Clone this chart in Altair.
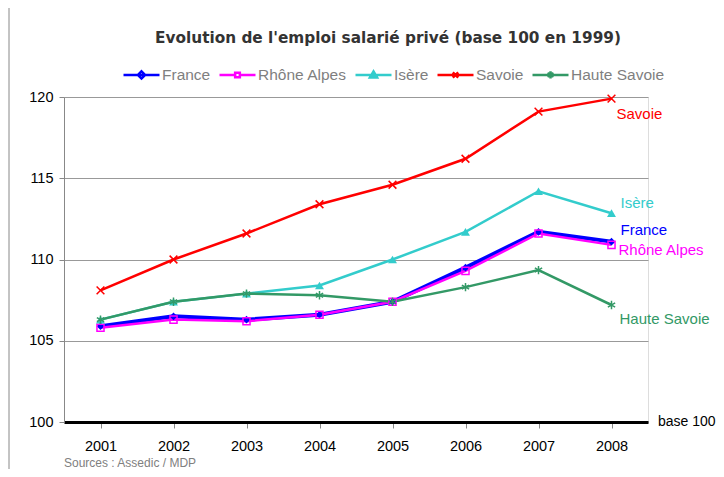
import altair as alt
import pandas as pd

years = ["2001", "2002", "2003", "2004", "2005", "2006", "2007", "2008"]
series_names = ["France", "Rhône Alpes", "Isère", "Savoie", "Haute Savoie"]
france = [105.9, 106.5, 106.3, 106.6, 107.4, 109.5, 111.7, 111.1]
rhone_alpes = [105.8, 106.3, 106.2, 106.6, 107.4, 109.3, 111.6, 110.9]
isere = [106.3, 107.4, 107.9, 108.4, 110.0, 111.7, 114.2, 112.85]
savoie = [108.1, 110.0, 111.6, 113.4, 114.6, 116.2, 119.1, 119.9]
haute_savoie = [106.3, 107.4, 107.9, 107.8, 107.4, 108.3, 109.35, 107.2]
colors = ["#0000ff", "#ff00ff", "#33cccc", "#ff0000", "#339966"]
title_text = "Evolution de l'emploi salarié privé (base 100 en 1999)"
source_text = "Sources : Assedic / MDP"
base_text = "base 100"
y_ticks = [100, 105, 110, 115, 120]

values = [france, rhone_alpes, isere, savoie, haute_savoie]
rows = []
for name, vals in zip(series_names, values):
    for yr, v in zip(years, vals):
        rows.append({"serie": name, "annee": yr, "valeur": v})
df = pd.DataFrame(rows)

W, H = 584, 325
FONT = "Liberation Sans"

xenc = alt.X("annee:O", sort=years,
             scale=alt.Scale(paddingInner=0, paddingOuter=0, align=0.5),
             axis=alt.Axis(title=None, labelAngle=0, labelFontSize=14.5, labelColor="black",
                           labelFont=FONT, domainColor="black", domainWidth=3,
                           ticks=True, tickColor="#888", tickSize=6, bandPosition=0,
                           labelPadding=11, grid=False))
yscale = alt.Scale(domain=[100, 120], nice=False, zero=False)
yaxis = alt.Axis(title=None, values=y_ticks, labelFontSize=14.5, labelColor="black",
                 labelFont=FONT, domainColor="#888", tickColor="#888", tickSize=5,
                 labelPadding=6, grid=True, gridColor="#999", gridWidth=1)
yenc = alt.Y("valeur:Q", scale=yscale, axis=yaxis)

legend_paths = [
    "M-1,0L1,0M0,-0.2L0.2,0L0,0.2L-0.2,0Z",
    "M-1,0L-0.13,0M0.13,0L1,0M-0.13,-0.13L0.13,-0.13L0.13,0.13L-0.13,0.13Z",
    "M-1,0L1,0M0,-0.2L0.2,0.14L-0.2,0.14Z",
    "M-1,0L1,0M-0.15,-0.15L0.15,0.15M-0.15,0.15L0.15,-0.15",
    "M-1,0L1,0M0,-0.2L0,0.2M-0.17,-0.1L0.17,0.1M-0.17,0.1L0.17,-0.1",
]
legend_common = dict(orient="none", legendX=58, legendY=-42, direction="horizontal", title=None,
                     labelFont=FONT, labelFontSize=15.5, labelColor="#7f7f7f", labelOffset=1,
                     symbolSize=1296, columnPadding=3, padding=0, symbolOpacity=1,
                     symbolStrokeWidth=2.5)

color_scale = alt.Scale(domain=series_names, range=colors)
line_widths = {"France": 4, "Rhône Alpes": 2.5, "Isère": 2.5, "Savoie": 2.5, "Haute Savoie": 2.5}


def build():
    # legend-only layer: its marks sit far outside the clipped plot area
    legend_layer = alt.Chart(df).transform_calculate(hors="0").mark_point(
        filled=False, clip=True).encode(
        x=xenc, y=alt.Y("hors:Q", scale=yscale, axis=yaxis),
        color=alt.Color("serie:N", sort=series_names, scale=color_scale,
                        legend=alt.Legend(**legend_common)),
        shape=alt.Shape("serie:N", sort=series_names,
                        scale=alt.Scale(domain=series_names, range=legend_paths),
                        legend=alt.Legend(**legend_common)),
    )
    layers = [legend_layer]
    point_styles = {
        "France": dict(shape="diamond", filled=True, size=60),
        "Rhône Alpes": dict(shape="square", filled=False, size=50, strokeWidth=1.5),
        "Isère": dict(shape="triangle-up", filled=True, size=80),
        "Savoie": dict(shape="M-1,-1L1,1M-1,1L1,-1", filled=False, size=60, strokeWidth=1.5),
        "Haute Savoie": dict(shape="M0,-1L0,1M-0.87,-0.5L0.87,0.5M-0.87,0.5L0.87,-0.5",
                             filled=False, size=70, strokeWidth=1.5),
    }
    label_dy = {"France": -12, "Rhône Alpes": 5, "Isère": -10, "Savoie": 15, "Haute Savoie": 14}
    label_dx = {"France": 9, "Rhône Alpes": 7, "Isère": 9, "Savoie": 5, "Haute Savoie": 8}
    for name, c in zip(series_names, colors):
        sub = df[df.serie == name]
        layers.append(alt.Chart(sub).mark_line(color=c, strokeWidth=line_widths[name]).encode(
            x=xenc, y=yenc, order=alt.Order("annee:O")))
    for name, c in zip(series_names, colors):
        sub = df[df.serie == name]
        layers.append(alt.Chart(sub).mark_point(color=c, opacity=1, **point_styles[name]).encode(x=xenc, y=yenc))
        last = sub[sub.annee == years[-1]]
        layers.append(alt.Chart(last).mark_text(align="left", baseline="middle", font=FONT,
                                                fontSize=15, color=c, dx=label_dx[name],
                                                dy=label_dy[name]).encode(
            x=xenc, y=yenc, text=alt.value(name)))
    base = alt.Chart(pd.DataFrame({"valeur": [100]})).mark_text(
        align="left", baseline="middle", font=FONT, fontSize=14, color="black").encode(
        x=alt.value(W + 10), y=alt.Y("valeur:Q", scale=yscale, axis=yaxis),
        text=alt.value(base_text))
    title = alt.Chart(pd.DataFrame({"t": [title_text]})).mark_text(
        align="center", baseline="middle", font="DejaVu Sans", fontSize=15.3, fontWeight="bold",
        color="#333333").encode(x=alt.value(324), y=alt.value(-59), text="t:N")
    source = alt.Chart(pd.DataFrame({"t": [source_text]})).mark_text(
        align="left", baseline="middle", font=FONT, fontSize=12, color="#808080").encode(
        x=alt.value(0), y=alt.value(H + 41), text="t:N")
    border = alt.Chart(pd.DataFrame({"a": [0]})).mark_rule(color="#888", strokeWidth=1).encode(
        x=alt.value(-55), y=alt.value(-89), y2=alt.value(H + 47))
    layers += [base, title, source, border]
    chart = alt.layer(*layers).properties(
        width=W, height=H,
        autosize=alt.AutoSizeParams(type="none"),
        padding={"left": 56, "top": 89, "right": 68, "bottom": 47},
    ).configure_view(strokeWidth=0).configure(font=FONT)
    return chart


chart = build()
chart.save("out.html", embed_options={"renderer": "svg", "actions": False})
